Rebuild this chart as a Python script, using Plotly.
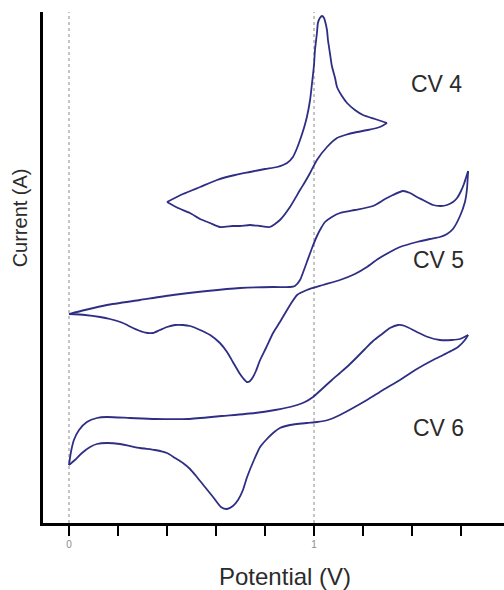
import plotly.graph_objects as go

# Cyclic voltammograms: each scan split into its anodic (forward) and
# cathodic (reverse) branch so the switching vertices stay sharp.
# Potential in V, current in arbitrary units (curves offset vertically).

cv4_fwd_v = [0.400, 0.465, 0.535, 0.604, 0.678, 0.739, 0.800, 0.849, 0.890, 0.914,
             0.931, 0.943, 0.959, 0.971, 0.984, 0.992, 1.000, 1.004, 1.012, 1.016,
             1.024, 1.033, 1.041, 1.045, 1.053, 1.057, 1.065, 1.073, 1.086, 1.094,
             1.114, 1.135, 1.167, 1.200, 1.249, 1.298]
cv4_fwd_i = [32.1, 32.9, 33.6, 34.3, 34.8, 35.1, 35.4, 35.6, 36.0, 36.6,
             37.5, 38.3, 39.5, 40.6, 42.3, 44.0, 45.8, 47.3, 49.0, 50.0,
             50.5, 50.7, 50.5, 50.2, 49.3, 48.3, 47.0, 45.7, 44.5, 43.6,
             42.7, 42.0, 41.3, 40.8, 40.4, 40.0]
cv4_rev_v = [1.298, 1.269, 1.220, 1.176, 1.127, 1.094, 1.053, 1.012, 0.984, 0.963,
             0.943, 0.902, 0.861, 0.820, 0.780, 0.739, 0.698, 0.669, 0.616, 0.576,
             0.535, 0.494, 0.445, 0.400]
cv4_rev_i = [40.0, 39.6, 39.3, 39.1, 38.8, 38.5, 37.6, 36.3, 35.0, 34.1,
             33.3, 31.6, 30.3, 29.6, 29.7, 29.8, 29.7, 29.7, 29.6, 30.0,
             30.4, 31.0, 31.5, 32.1]

cv5_fwd_v = [0.000, 0.065, 0.155, 0.290, 0.424, 0.563, 0.698, 0.833, 0.902, 0.922,
             0.943, 0.959, 0.971, 0.992, 1.012, 1.029, 1.045, 1.073, 1.106, 1.167,
             1.241, 1.290, 1.322, 1.363, 1.392, 1.420, 1.445, 1.486, 1.518, 1.543,
             1.567, 1.584, 1.600, 1.612, 1.620, 1.629]
cv5_fwd_i = [20.9, 21.3, 21.8, 22.3, 22.8, 23.2, 23.5, 23.6, 23.6, 23.7,
             24.3, 25.3, 26.1, 27.5, 28.7, 29.5, 30.1, 30.6, 31.0, 31.3,
             31.7, 32.4, 32.8, 33.2, 33.0, 32.6, 32.3, 31.8, 31.7, 31.8,
             32.1, 32.5, 33.2, 33.9, 34.5, 35.2]
cv5_rev_v = [1.629, 1.624, 1.616, 1.596, 1.567, 1.543, 1.514, 1.473, 1.420, 1.351,
             1.310, 1.261, 1.216, 1.167, 1.106, 1.037, 0.971, 0.931, 0.910, 0.890,
             0.861, 0.833, 0.804, 0.780, 0.763, 0.751, 0.739, 0.727, 0.710, 0.698,
             0.669, 0.645, 0.616, 0.576, 0.535, 0.494, 0.465, 0.433, 0.400, 0.371,
             0.343, 0.322, 0.302, 0.261, 0.220, 0.167, 0.127, 0.065, 0.000]
cv5_rev_i = [35.2, 33.3, 32.1, 30.7, 29.4, 28.9, 28.6, 28.4, 28.1, 27.6,
             27.1, 26.4, 25.6, 24.9, 24.3, 23.8, 23.3, 22.8, 22.1, 21.3,
             20.1, 19.0, 17.5, 16.3, 15.2, 14.6, 14.2, 14.1, 14.5, 14.9,
             16.1, 17.1, 18.0, 18.8, 19.3, 19.7, 19.8, 19.8, 19.6, 19.3,
             19.0, 19.0, 19.1, 19.5, 20.0, 20.4, 20.6, 20.8, 20.9]

cv6_fwd_v = [0.000, 0.008, 0.020, 0.041, 0.073, 0.114, 0.155, 0.249, 0.351, 0.486,
             0.624, 0.759, 0.841, 0.902, 0.963, 0.996, 1.037, 1.073, 1.106, 1.143,
             1.176, 1.208, 1.241, 1.278, 1.310, 1.343, 1.371, 1.420, 1.465, 1.514,
             1.563, 1.596, 1.629]
cv6_fwd_i = [5.8, 7.1, 8.3, 9.3, 10.1, 10.5, 10.6, 10.5, 10.4, 10.4,
             10.7, 11.0, 11.3, 11.6, 12.1, 12.6, 13.5, 14.3, 15.0, 15.8,
             16.6, 17.4, 18.2, 18.9, 19.5, 19.8, 19.7, 19.1, 18.6, 18.3,
             18.3, 18.4, 18.8]
cv6_rev_v = [1.629, 1.616, 1.588, 1.567, 1.527, 1.486, 1.420, 1.351, 1.282, 1.216,
             1.159, 1.106, 1.057, 1.012, 0.971, 0.902, 0.861, 0.833, 0.804, 0.780,
             0.755, 0.727, 0.710, 0.690, 0.669, 0.645, 0.620, 0.588, 0.555, 0.522,
             0.494, 0.465, 0.433, 0.400, 0.351, 0.290, 0.208, 0.155, 0.114, 0.086,
             0.053, 0.024, 0.000]
cv6_rev_i = [18.8, 18.3, 17.6, 17.3, 16.8, 16.3, 15.4, 14.3, 13.3, 12.3,
             11.5, 10.8, 10.3, 10.1, 10.0, 9.8, 9.5, 9.0, 8.3, 7.6,
             6.3, 4.6, 3.3, 2.3, 1.7, 1.4, 1.6, 2.6, 3.6, 4.6,
             5.4, 6.0, 6.5, 7.0, 7.3, 7.5, 7.9, 8.0, 7.9, 7.6,
             7.0, 6.3, 5.8]

curve_labels = ["CV 4", "CV 5", "CV 6"]
label_v = [1.50, 1.51, 1.51]
label_i = [43.9, 26.3, 9.5]

tick_vals = [0.0, 0.2, 0.4, 0.6, 0.8, 1.0, 1.2, 1.4, 1.6]
tick_text = ["0", "", "", "", "", "1", "", "", ""]
guide_v = [0.0, 1.0]

LINE = "rgb(46,46,132)"
TEXT = "#2b2b2b"
FONT = "Liberation Sans, Arial"

branches = [
    (cv4_fwd_v, cv4_fwd_i), (cv4_rev_v, cv4_rev_i),
    (cv5_fwd_v, cv5_fwd_i), (cv5_rev_v, cv5_rev_i),
    (cv6_fwd_v, cv6_fwd_i), (cv6_rev_v, cv6_rev_i),
]

fig = go.Figure()
for v, i in branches:
    fig.add_trace(go.Scatter(
        x=v, y=i, mode="lines",
        line=dict(color=LINE, width=1.8, shape="spline", smoothing=0.6),
        showlegend=False, hoverinfo="skip",
    ))

for gv in guide_v:
    fig.add_shape(type="line", xref="x", yref="paper", x0=gv, x1=gv, y0=0, y1=1,
                  line=dict(color="#8a8a8a", width=1, dash="dot"), layer="below")

for txt, lv, li in zip(curve_labels, label_v, label_i):
    fig.add_annotation(x=lv, y=li, xref="x", yref="y", text=txt, showarrow=False,
                       xanchor="center", yanchor="middle",
                       font=dict(family=FONT, size=23, color=TEXT))

fig.add_annotation(x=0.525, y=-0.105, xref="paper", yref="paper",
                   text="Potential (V)", showarrow=False,
                   xanchor="center", yanchor="middle",
                   font=dict(family=FONT, size=24, color=TEXT))
fig.add_annotation(x=-0.050, y=0.598, xref="paper", yref="paper",
                   text="Current (A)", showarrow=False, textangle=-90,
                   xanchor="center", yanchor="middle",
                   font=dict(family=FONT, size=20, color=TEXT))

fig.update_layout(
    width=504, height=590,
    margin=dict(l=43, r=0, t=12, b=67),
    paper_bgcolor="white", plot_bgcolor="white",
    xaxis=dict(
        range=[-0.1061, 1.7755], showgrid=False, zeroline=False,
        showline=True, linecolor="black", linewidth=3,
        tickmode="array", tickvals=tick_vals, ticktext=tick_text,
        ticks="outside", ticklen=10, tickwidth=2, tickcolor="black",
        tickfont=dict(family=FONT, size=10, color="#8c8c8c"),
    ),
    yaxis=dict(
        range=[0, 51.1], showgrid=False, zeroline=False,
        showline=True, linecolor="black", linewidth=3,
        showticklabels=False, ticks="",
    ),
)

fig.write_html("out.html")
